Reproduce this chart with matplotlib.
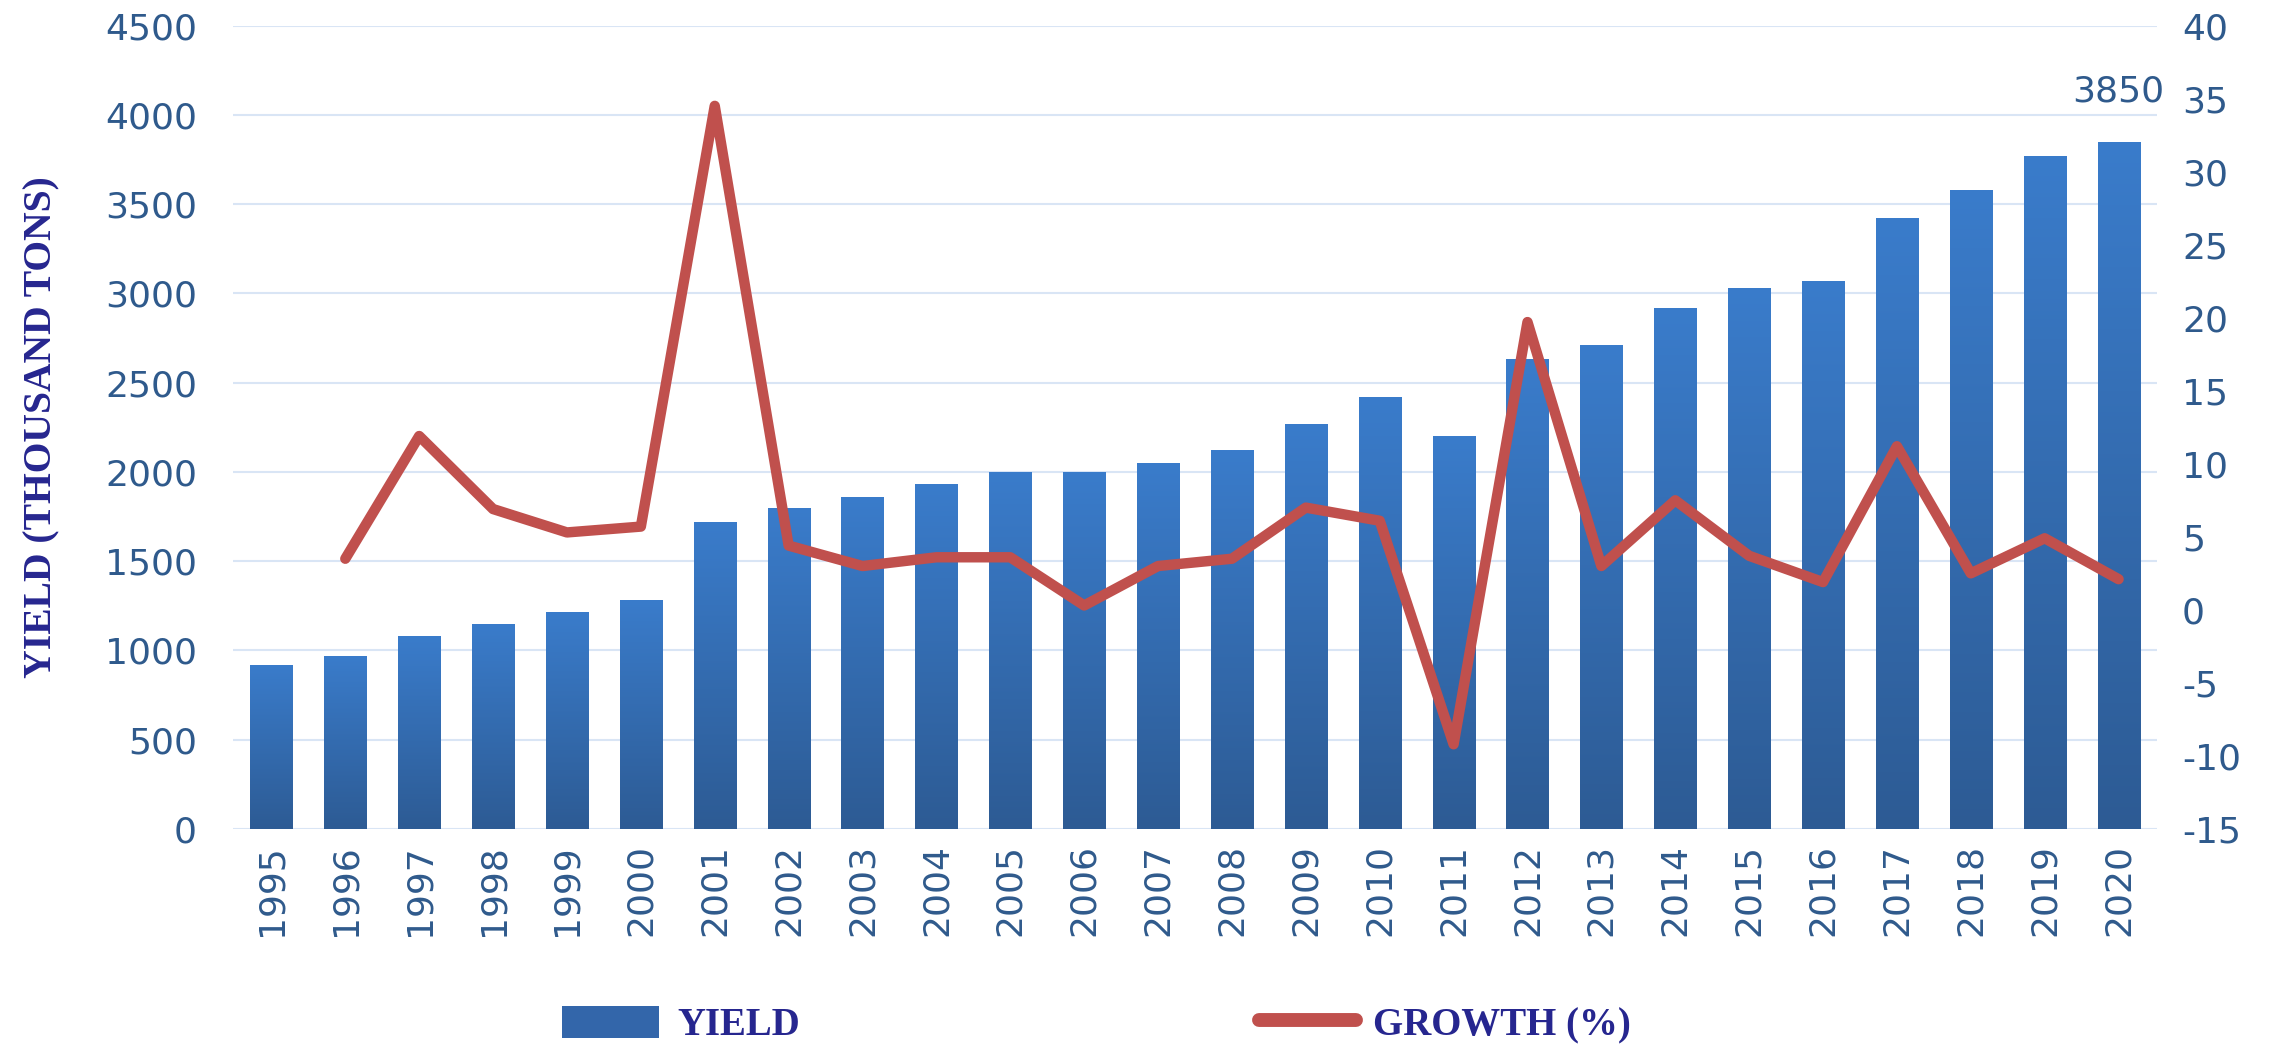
import matplotlib
matplotlib.use("Agg")
import matplotlib.pyplot as plt
import numpy as np
from matplotlib.patches import Patch
from matplotlib.lines import Line2D
from matplotlib.colors import LinearSegmentedColormap

plt.rcParams['axes.unicode_minus'] = False

years = [str(y) for y in range(1995, 2021)]
yield_vals = [920, 970, 1080, 1150, 1215, 1280, 1720, 1800, 1860, 1930, 2000, 2000,
              2050, 2120, 2270, 2420, 2200, 2630, 2710, 2920, 3030, 3070, 3420, 3580,
              3770, 3850]
growth_years = years[1:]
growth_vals = [3.5, 11.9, 6.9, 5.3, 5.7, 34.5, 4.4, 3.0, 3.6, 3.6, 0.3, 3.0, 3.5,
               7.0, 6.1, -9.2, 19.7, 3.0, 7.5, 3.7, 1.9, 11.2, 2.5, 4.9, 2.1]
left_ticks = [0, 500, 1000, 1500, 2000, 2500, 3000, 3500, 4000, 4500]
right_ticks = [-15, -10, -5, 0, 5, 10, 15, 20, 25, 30, 35, 40]

tick_color = '#2F5A8C'
title_color = '#26268F'
line_color = '#C0504D'
grid_color = '#D9E5F5'

fig = plt.figure(figsize=(22.8, 10.5), dpi=100)
ax = fig.add_axes([233/2280, 1-829/1050, (2157-233)/2280, (829-25.5)/1050])

x = np.arange(len(years))
bars = ax.bar(x, yield_vals, width=0.57, color='#3366AA', zorder=2)

grad = np.linspace(0, 1, 256).reshape(-1, 1)
cmap = LinearSegmentedColormap.from_list('bg', ['#2D5B94', '#3A7CCB'])
for b in bars:
    bx, by = b.get_x(), b.get_y()
    w, h = b.get_width(), b.get_height()
    im = ax.imshow(grad, extent=[bx, bx + w, by, by + h], origin='lower',
                   cmap=cmap, aspect='auto', zorder=2.1)
    im.set_clip_path(b)

ax.set_xlim(-0.52, len(years) - 0.48)
ax.set_ylim(0, 4500)
ax.set_yticks(left_ticks)
ax.set_xticks(x)
ax.set_xticklabels(years, rotation=90)
ax.grid(axis='y', color=grid_color, linewidth=1.5, zorder=0)
ax.set_axisbelow(True)
for s in ax.spines.values():
    s.set_visible(False)
ax.tick_params(axis='both', length=0, colors=tick_color, labelsize=26)
ax.tick_params(axis='x', pad=11)
ax.tick_params(axis='y', pad=26)
ax.set_ylabel('YIELD (THOUSAND TONS)', fontfamily='Liberation Serif', fontweight='bold',
              fontsize=28.5, color=title_color, labelpad=32)

ax.annotate(str(yield_vals[-1]), (x[-1], yield_vals[-1]), xytext=(0, 36),
            textcoords='offset points', ha='center', va='center',
            fontsize=26, color=tick_color)

ax2 = ax.twinx()
gx = np.arange(1, len(years))
ax2.plot(gx, growth_vals, color=line_color, linewidth=7.5, solid_capstyle='round',
         solid_joinstyle='round', zorder=3)
ax2.set_ylim(-15, 40)
ax2.set_yticks(right_ticks)
for s in ax2.spines.values():
    s.set_visible(False)
ax2.tick_params(axis='y', length=0, colors=tick_color, labelsize=26, pad=18)

handles = [Patch(facecolor='#3366AA', edgecolor='none'),
           Line2D([0], [0], color=line_color, linewidth=10, solid_capstyle='round')]
fig.legend(handles, ['YIELD', 'GROWTH (%)'], loc='center', bbox_to_anchor=(0.481, 0.024),
           ncol=2, frameon=False, columnspacing=11.8, handlelength=2.5, handleheight=0.9,
           handletextpad=0.45,
           prop={'family': 'Liberation Serif', 'weight': 'bold', 'size': 28},
           labelcolor=title_color)

fig.savefig('out.png', dpi=100, facecolor='white')
